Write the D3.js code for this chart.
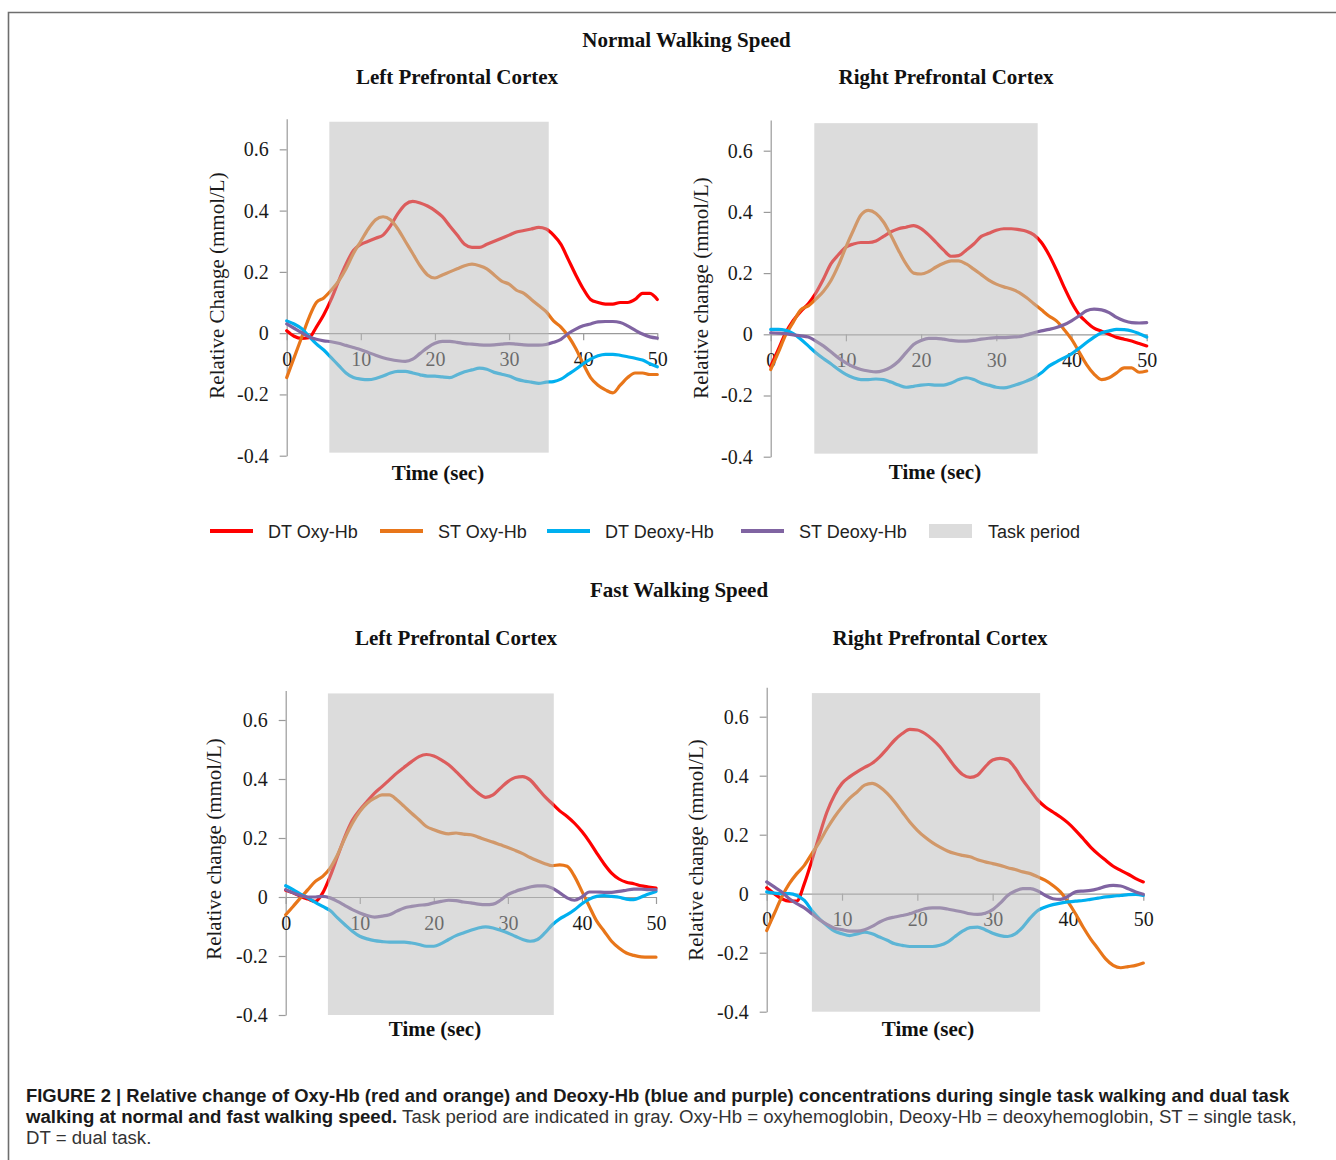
<!DOCTYPE html>
<html>
<head>
<meta charset="utf-8">
<script src="https://cdn.jsdelivr.net/npm/d3@7"></script>
<style>
  body { margin: 0; background: #fff; }
</style>
</head>
<body>
<svg id="fig" width="1336" height="1160"></svg>
<script>
// --- Data ---
const seconds = [0,1,2,3,4,5,6,7,8,9,10,11,12,13,14,15,16,17,18,19,20,21,22,23,24,25,26,27,28,29,30,31,32,33,34,35,36,37,38,39,40,41,42,43,44,45,46,47,48,49,50];

const xTicks = [0, 10, 20, 30, 40, 50];
const yTicks = [-0.4, -0.2, 0, 0.2, 0.4, 0.6];
const yTickLabels = ['-0.4', '-0.2', '0', '0.2', '0.4', '0.6'];

const seriesNames = ['DT Oxy-Hb', 'ST Oxy-Hb', 'DT Deoxy-Hb', 'ST Deoxy-Hb'];

// task period per panel: [start sec, end sec, bottom, top]
const taskNormalLeft = [5.75, 35.35, -0.39, 0.69];
const taskNormalRight = [5.8, 35.5, -0.39, 0.69];
const taskFastLeft = [5.7, 36.2, -0.4, 0.69];
const taskFastRight = [6.0, 36.3, -0.4, 0.68];

// Normal walking, left PFC
const normalLeftDtOxy = [0.008,-0.01,-0.017,-0.015,0.02,0.06,0.11,0.17,0.225,0.27,0.29,0.30,0.31,0.32,0.35,0.39,0.42,0.43,0.425,0.415,0.40,0.38,0.35,0.32,0.29,0.28,0.28,0.29,0.30,0.31,0.32,0.33,0.335,0.34,0.345,0.34,0.32,0.29,0.24,0.19,0.145,0.11,0.10,0.095,0.095,0.10,0.10,0.11,0.13,0.13,0.11];
const normalLeftStOxy = [-0.145,-0.08,-0.015,0.05,0.10,0.115,0.14,0.17,0.21,0.26,0.30,0.34,0.37,0.38,0.37,0.34,0.30,0.26,0.22,0.19,0.18,0.19,0.20,0.21,0.22,0.225,0.22,0.21,0.19,0.17,0.16,0.14,0.13,0.11,0.09,0.07,0.04,0.02,-0.01,-0.05,-0.10,-0.145,-0.17,-0.185,-0.195,-0.17,-0.145,-0.13,-0.13,-0.135,-0.135];
const normalLeftDtDeoxy = [0.04,0.03,0.015,-0.01,-0.035,-0.055,-0.08,-0.105,-0.13,-0.145,-0.15,-0.152,-0.148,-0.14,-0.13,-0.125,-0.125,-0.13,-0.136,-0.14,-0.14,-0.143,-0.145,-0.136,-0.126,-0.12,-0.114,-0.118,-0.128,-0.134,-0.14,-0.15,-0.156,-0.16,-0.164,-0.16,-0.158,-0.15,-0.134,-0.118,-0.10,-0.085,-0.074,-0.069,-0.069,-0.072,-0.077,-0.082,-0.088,-0.10,-0.11];
const normalLeftStDeoxy = [0.03,0.016,0.002,-0.012,-0.02,-0.025,-0.028,-0.033,-0.04,-0.047,-0.054,-0.063,-0.072,-0.08,-0.086,-0.09,-0.092,-0.085,-0.066,-0.047,-0.033,-0.027,-0.027,-0.03,-0.034,-0.036,-0.038,-0.039,-0.038,-0.036,-0.034,-0.036,-0.038,-0.039,-0.039,-0.037,-0.03,-0.02,-0.001,0.013,0.024,0.03,0.037,0.038,0.038,0.035,0.024,0.01,-0.003,-0.012,-0.016];

// Normal walking, right PFC
const normalRightDtOxy = [-0.105,-0.05,0.005,0.045,0.075,0.10,0.135,0.18,0.23,0.26,0.285,0.295,0.30,0.30,0.305,0.32,0.335,0.345,0.35,0.355,0.345,0.325,0.30,0.275,0.255,0.257,0.275,0.295,0.32,0.33,0.34,0.345,0.345,0.342,0.337,0.325,0.30,0.26,0.21,0.155,0.105,0.065,0.04,0.02,0.01,0,-0.01,-0.016,-0.022,-0.03,-0.038];
const normalRightStOxy = [-0.115,-0.06,-0.002,0.04,0.08,0.093,0.115,0.14,0.175,0.225,0.285,0.34,0.39,0.405,0.395,0.367,0.323,0.274,0.23,0.20,0.197,0.205,0.22,0.232,0.24,0.24,0.23,0.213,0.195,0.177,0.164,0.155,0.148,0.137,0.12,0.10,0.08,0.06,0.044,0.016,-0.016,-0.057,-0.099,-0.13,-0.148,-0.142,-0.126,-0.11,-0.11,-0.124,-0.12];
const normalRightDtDeoxy = [0.016,0.016,0.013,0.002,-0.016,-0.038,-0.06,-0.079,-0.096,-0.115,-0.131,-0.142,-0.148,-0.148,-0.146,-0.148,-0.156,-0.166,-0.173,-0.17,-0.166,-0.164,-0.166,-0.166,-0.159,-0.148,-0.142,-0.148,-0.159,-0.166,-0.173,-0.175,-0.17,-0.162,-0.153,-0.142,-0.126,-0.104,-0.09,-0.077,-0.064,-0.046,-0.027,-0.009,0.005,0.011,0.016,0.015,0.011,0.002,-0.009];
const normalRightStDeoxy = [0.005,0.004,0.002,-0.002,-0.005,-0.009,-0.022,-0.038,-0.057,-0.077,-0.093,-0.106,-0.115,-0.12,-0.123,-0.118,-0.107,-0.088,-0.06,-0.033,-0.02,-0.013,-0.013,-0.016,-0.02,-0.022,-0.022,-0.02,-0.016,-0.013,-0.011,-0.011,-0.009,-0.008,-0.002,0.005,0.011,0.016,0.022,0.031,0.044,0.06,0.077,0.082,0.08,0.071,0.055,0.044,0.038,0.037,0.038];

// Fast walking, left PFC
const fastLeftDtOxy = [0.023,0.014,0.002,-0.007,-0.015,0.014,0.07,0.138,0.205,0.26,0.295,0.324,0.352,0.374,0.397,0.42,0.44,0.459,0.476,0.483,0.478,0.465,0.448,0.425,0.40,0.374,0.352,0.338,0.346,0.369,0.391,0.405,0.408,0.397,0.369,0.34,0.316,0.292,0.273,0.25,0.222,0.188,0.149,0.112,0.081,0.061,0.05,0.045,0.038,0.034,0.03];
const fastLeftStOxy = [-0.06,-0.032,-0.003,0.025,0.053,0.07,0.098,0.143,0.20,0.25,0.29,0.318,0.335,0.346,0.346,0.33,0.307,0.284,0.262,0.239,0.228,0.219,0.214,0.217,0.213,0.211,0.203,0.194,0.186,0.177,0.168,0.158,0.147,0.134,0.123,0.113,0.106,0.109,0.104,0.07,0.019,-0.032,-0.082,-0.116,-0.15,-0.173,-0.19,-0.198,-0.203,-0.204,-0.204];
const fastLeftDtDeoxy = [0.038,0.025,0.01,-0.003,-0.018,-0.032,-0.046,-0.071,-0.094,-0.116,-0.133,-0.142,-0.148,-0.151,-0.153,-0.153,-0.153,-0.156,-0.161,-0.167,-0.167,-0.158,-0.144,-0.131,-0.122,-0.113,-0.105,-0.101,-0.105,-0.113,-0.122,-0.133,-0.144,-0.15,-0.144,-0.122,-0.094,-0.074,-0.06,-0.043,-0.023,-0.007,0.002,0.005,0.002,-0.001,-0.007,-0.009,0,0.01,0.019];
const fastLeftStDeoxy = [0.025,0.014,0.005,0,0,0.002,-0.003,-0.015,-0.029,-0.043,-0.054,-0.063,-0.068,-0.065,-0.06,-0.048,-0.037,-0.032,-0.028,-0.026,-0.02,-0.015,-0.011,-0.012,-0.017,-0.02,-0.024,-0.026,-0.024,-0.011,0.008,0.019,0.027,0.034,0.038,0.038,0.03,0.014,-0.003,-0.011,0,0.017,0.017,0.016,0.016,0.019,0.023,0.027,0.027,0.025,0.025];

// Fast walking, right PFC
const fastRightDtOxy = [0.02,0,-0.017,-0.025,-0.025,0.034,0.113,0.198,0.277,0.334,0.374,0.396,0.413,0.428,0.442,0.464,0.492,0.521,0.543,0.557,0.555,0.543,0.523,0.498,0.464,0.43,0.404,0.394,0.402,0.43,0.453,0.459,0.453,0.425,0.385,0.351,0.317,0.294,0.277,0.26,0.24,0.215,0.187,0.158,0.134,0.113,0.093,0.079,0.066,0.051,0.04];
const fastRightStOxy = [-0.125,-0.068,-0.011,0.034,0.068,0.096,0.136,0.175,0.22,0.26,0.294,0.323,0.345,0.368,0.374,0.362,0.34,0.311,0.277,0.243,0.215,0.192,0.173,0.158,0.145,0.136,0.13,0.125,0.115,0.108,0.102,0.096,0.088,0.082,0.074,0.068,0.057,0.045,0.028,0.006,-0.028,-0.068,-0.113,-0.153,-0.187,-0.221,-0.243,-0.251,-0.247,-0.243,-0.235];
const fastRightDtDeoxy = [0.006,0.002,0,0,-0.006,-0.023,-0.057,-0.085,-0.108,-0.127,-0.136,-0.142,-0.136,-0.13,-0.136,-0.147,-0.158,-0.17,-0.175,-0.179,-0.179,-0.179,-0.179,-0.175,-0.164,-0.145,-0.127,-0.115,-0.113,-0.122,-0.134,-0.142,-0.145,-0.136,-0.113,-0.082,-0.057,-0.045,-0.037,-0.032,-0.028,-0.025,-0.023,-0.019,-0.015,-0.011,-0.008,-0.006,-0.003,-0.002,-0.006];
const fastRightStDeoxy = [0.04,0.023,0.006,-0.017,-0.034,-0.048,-0.068,-0.088,-0.104,-0.117,-0.122,-0.127,-0.127,-0.122,-0.111,-0.096,-0.085,-0.079,-0.074,-0.068,-0.059,-0.051,-0.048,-0.048,-0.052,-0.057,-0.062,-0.068,-0.07,-0.066,-0.054,-0.032,-0.006,0.009,0.017,0.017,0.009,-0.006,-0.017,-0.019,-0.009,0.006,0.009,0.011,0.017,0.025,0.028,0.026,0.017,0.006,-0.002];

// --- Layout / style ---
const colors = ['#ff0000', '#e8761a', '#00b0f0', '#8064a2'];
const serif = '"Liberation Serif", "Times New Roman", serif';
const sans = '"Liberation Sans", Arial, sans-serif';
const axisGray = '#9a9a9a';

const panels = [
  { left: 286.7, right: 657.3, top: 118.7, bottom: 455.7, title: 'Left Prefrontal Cortex', titleX: 457, titleY: 84,
    ylabel: 'Relative Change (mmol/L)', ylabelX: 224, ylabelY: 285.5, timeX: 438, timeY: 480,
    task: taskNormalLeft, series: [normalLeftDtOxy, normalLeftStOxy, normalLeftDtDeoxy, normalLeftStDeoxy] },
  { left: 770.7, right: 1146.7, top: 120.1, bottom: 456.7, title: 'Right Prefrontal Cortex', titleX: 946, titleY: 84,
    ylabel: 'Relative change (mmol/L)', ylabelX: 708, ylabelY: 288, timeX: 935, timeY: 479,
    task: taskNormalRight, series: [normalRightDtOxy, normalRightStOxy, normalRightDtDeoxy, normalRightStDeoxy] },
  { left: 285.7, right: 656, top: 690.5, bottom: 1015, title: 'Left Prefrontal Cortex', titleX: 456, titleY: 645,
    ylabel: 'Relative change (mmol/L)', ylabelX: 221, ylabelY: 849, timeX: 435, timeY: 1036,
    task: taskFastLeft, series: [fastLeftDtOxy, fastLeftStOxy, fastLeftDtDeoxy, fastLeftStDeoxy] },
  { left: 766.7, right: 1143.3, top: 687.2, bottom: 1011.7, title: 'Right Prefrontal Cortex', titleX: 940, titleY: 645,
    ylabel: 'Relative change (mmol/L)', ylabelX: 703, ylabelY: 850, timeX: 928, timeY: 1036,
    task: taskFastRight, series: [fastRightDtOxy, fastRightStOxy, fastRightDtDeoxy, fastRightStDeoxy] },
];

const svg = d3.select('#fig');

// figure frame (left + top edges)
svg.append('path')
  .attr('d', 'M8.5,1160 V12.5 H1336')
  .attr('fill', 'none')
  .attr('stroke', '#6e6e6e')
  .attr('stroke-width', 1.6);

// section titles
svg.append('text').attr('x', 686.5).attr('y', 47).attr('text-anchor', 'middle')
  .style('font', `bold 21px ${serif}`).attr('fill', '#111').text('Normal Walking Speed');
svg.append('text').attr('x', 679).attr('y', 597).attr('text-anchor', 'middle')
  .style('font', `bold 21px ${serif}`).attr('fill', '#111').text('Fast Walking Speed');

panels.forEach(p => {
  const x = d3.scaleLinear().domain([0, 50]).range([p.left, p.right]);
  const y = d3.scaleLinear().domain([-0.4, 0.7]).range([p.bottom, p.top]);
  const g = svg.append('g');

  // --- Axes ---
  const yAxis = g.append('g')
    .attr('transform', `translate(${p.left},0)`)
    .call(d3.axisLeft(y).tickValues(yTicks).tickSize(7).tickSizeOuter(0).tickPadding(11)
      .tickFormat((d, i) => yTickLabels[i]));

  const xAxis = g.append('g')
    .attr('transform', `translate(0,${y(0)})`)
    .call(d3.axisBottom(x).tickValues(xTicks).tickSize(7).tickSizeOuter(0).tickPadding(11.5));

  [xAxis, yAxis].forEach(a => {
    a.selectAll('path, line').attr('stroke', axisGray).attr('stroke-width', 1.2);
    a.selectAll('text').attr('fill', '#1a1a1a').style('font', `20px ${serif}`);
  });

  // --- Lines ---
  const line = d3.line()
    .x((d, i) => x(seconds[i]))
    .y(d => y(d))
    .curve(d3.curveMonotoneX);

  p.series.forEach((s, k) => {
    g.append('path')
      .datum(s)
      .attr('fill', 'none')
      .attr('stroke', colors[k])
      .attr('stroke-width', 3.2)
      .attr('stroke-linejoin', 'round')
      .attr('stroke-linecap', 'round')
      .attr('d', line);
  });

  // --- Task period (translucent gray over the lines) ---
  g.append('rect')
    .attr('x', x(p.task[0]))
    .attr('width', x(p.task[1]) - x(p.task[0]))
    .attr('y', y(p.task[3]))
    .attr('height', y(p.task[2]) - y(p.task[3]))
    .attr('fill', '#b9b9b9')
    .attr('fill-opacity', 0.5);

  // --- Labels ---
  g.append('text').attr('x', p.titleX).attr('y', p.titleY).attr('text-anchor', 'middle')
    .style('font', `bold 21px ${serif}`).attr('fill', '#111').text(p.title);
  g.append('text').attr('x', p.timeX).attr('y', p.timeY).attr('text-anchor', 'middle')
    .style('font', `bold 21px ${serif}`).attr('fill', '#111').text('Time (sec)');
  g.append('text')
    .attr('transform', `translate(${p.ylabelX},${p.ylabelY}) rotate(-90)`)
    .attr('text-anchor', 'middle')
    .style('font', `21px ${serif}`).attr('fill', '#1a1a1a').text(p.ylabel);
});

// --- Legend ---
const legendX = [210, 380, 547, 741];
const legend = svg.append('g');
seriesNames.forEach((name, i) => {
  legend.append('line')
    .attr('x1', legendX[i]).attr('x2', legendX[i] + 43)
    .attr('y1', 531).attr('y2', 531)
    .attr('stroke', colors[i]).attr('stroke-width', 4);
  legend.append('text')
    .attr('x', legendX[i] + 58).attr('y', 537.5)
    .style('font', `18px ${sans}`).attr('fill', '#222').text(name);
});
legend.append('rect').attr('x', 929).attr('y', 524).attr('width', 43).attr('height', 14).attr('fill', '#dcdcdc');
legend.append('text').attr('x', 988).attr('y', 537.5)
  .style('font', `18px ${sans}`).attr('fill', '#222').text('Task period');

// --- Caption (font size fitted to the printed line widths) ---
const cap = svg.append('g').style('font-family', sans).attr('fill', '#1a1a1a');
const l1 = cap.append('text').attr('x', 26).attr('y', 1102).style('font-weight', 'bold').style('font-size', '16px')
  .text('FIGURE 2 | Relative change of Oxy-Hb (red and orange) and Deoxy-Hb (blue and purple) concentrations during single task walking and dual task');
const l2 = cap.append('text').attr('x', 26).attr('y', 1123).style('font-size', '16px');
l2.append('tspan').style('font-weight', 'bold').text('walking at normal and fast walking speed.');
l2.append('tspan').attr('fill', '#333').text(' Task period are indicated in gray. Oxy-Hb = oxyhemoglobin, Deoxy-Hb = deoxyhemoglobin, ST = single task,');
const l3 = cap.append('text').attr('x', 26).attr('y', 1144).attr('fill', '#333').style('font-size', '16px').text('DT = dual task.');

const fit1 = 16 * 1264 / l1.node().getComputedTextLength();
const fit2 = 16 * 1271 / l2.node().getComputedTextLength();
l1.style('font-size', fit1 + 'px');
l2.style('font-size', fit2 + 'px');
l3.style('font-size', fit2 + 'px');
</script>
</body>
</html>
